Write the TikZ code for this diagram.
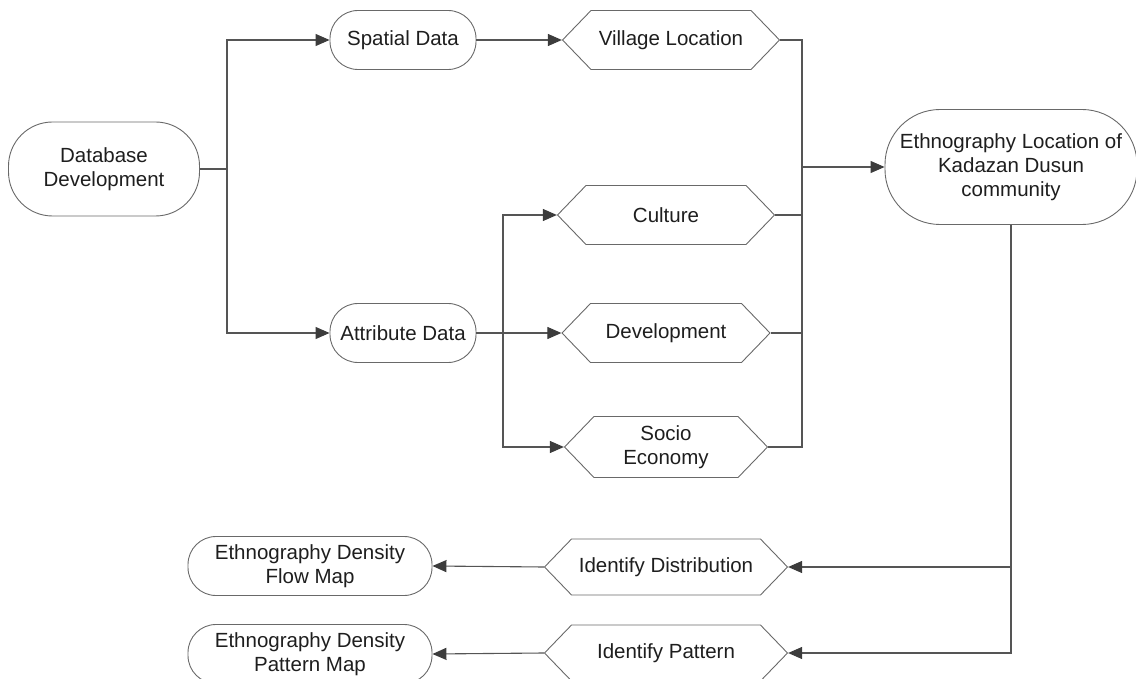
\documentclass[tikz,border=0pt]{standalone}
\usepackage{fontspec}
\setmainfont{Liberation Sans}
\usetikzlibrary{shapes, arrows.meta, positioning, calc}
\definecolor{linegray}{RGB}{85, 85, 85}
\definecolor{boxgray}{RGB}{105, 105, 105}
\definecolor{textgray}{RGB}{30, 30, 30}
\definecolor{tipgray}{RGB}{60, 60, 60}
\tikzset{
  pill/.style={rectangle, rounded corners=#1, draw=boxgray, line width=0.9pt, text=textgray,
    align=center, inner sep=0pt, font=\fontsize{20.5}{24}\selectfont},
  pill/.default=28pt,
  hexa/.style={signal, signal to=east and west, signal pointer angle=92, draw=boxgray,
    line width=0.9pt, text=textgray, align=center, inner sep=0pt, minimum height=59pt,
    font=\fontsize{20.5}{24}\selectfont},
  link/.style={draw=linegray, line width=1.1pt},
  arrowline/.style={link, -{Triangle[length=14pt, width=12pt, color=tipgray]}}
}

\begin{document}
\begin{tikzpicture}[x=1pt, y=-1pt]
  \useasboundingbox (0,0) rectangle (1136,679);
  % left part
  \node[pill=44pt, minimum width=191pt, minimum height=94pt] (db) at (104,169) {Database\\Development};
  \node[pill, minimum width=146pt, minimum height=59pt] (spatial) at (403,40) {Spatial Data};
  \node[pill, minimum width=146pt, minimum height=59pt] (attr) at (403,333) {Attribute Data};
  % middle column
  \node[hexa, minimum width=217pt] (village) at (671,40) {Village Location};
  \node[hexa, minimum width=217pt] (culture) at (666,215) {Culture};
  \node[hexa, minimum width=208pt] (devel) at (666,333) {Development};
  \node[hexa, minimum width=203pt, minimum height=61pt] (socio) at (666,447) {Socio\\Economy};
  % right part and outputs
  \node[pill=55pt, minimum width=252pt, minimum height=115pt] (ethno) at (1011,167) {Ethnography Location of\\Kadazan Dusun\\community};
  \node[hexa, minimum width=243pt, minimum height=56pt] (idist) at (666,567) {Identify Distribution};
  \node[hexa, minimum width=243pt, minimum height=56pt] (ipat) at (666,653) {Identify Pattern};
  \node[pill, minimum width=244pt, minimum height=59pt] (flowmap) at (310,566) {Ethnography Density\\Flow Map};
  \node[pill, minimum width=244pt, minimum height=59pt] (patmap) at (310,654) {Ethnography Density\\Pattern Map};

  \coordinate (dbjoin) at (227,169);
  \coordinate (attjoin) at (503,333);
  \coordinate (colljoin) at (802,167);

  \draw[link] (db.east) -- (dbjoin);
  \draw[arrowline] (dbjoin) |- (spatial.west);
  \draw[arrowline] (dbjoin) |- (attr.west);
  \draw[arrowline] (spatial.east) -- (village.west);
  \draw[link] (attr.east) -- (attjoin);
  \foreach \n in {culture, devel, socio}
    \draw[arrowline] (attjoin) |- (\n.west);
  \foreach \n in {village, culture, devel, socio}
    \draw[link] (\n.east) -| (colljoin);
  \draw[arrowline] (colljoin) -- (ethno.west);
  \draw[arrowline] (ethno.south) |- (idist.east);
  \draw[arrowline] (ethno.south) |- (ipat.east);
  \draw[arrowline] (idist.west) -- (flowmap.east);
  \draw[arrowline] (ipat.west) -- (patmap.east);
\end{tikzpicture}
\end{document}
